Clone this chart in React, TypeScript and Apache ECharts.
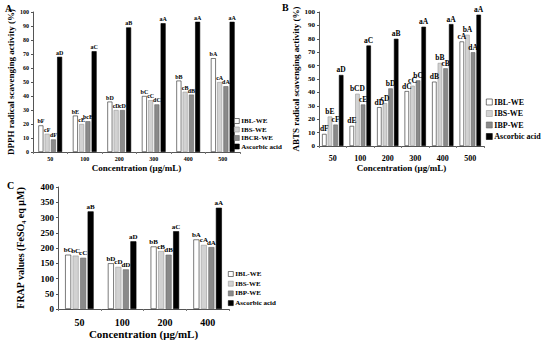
import React, { useEffect, useRef } from "react";
import * as echarts from "echarts";

const FONT = "'Liberation Serif', 'DejaVu Serif', serif";

const catsAB = ["50", "100", "200", "300", "400", "500"];
const catsC = ["50", "100", "200", "400"];

// Panel A: DPPH
const dpphIBL = [19, 26, 36, 40, 51, 67];
const dpphIBS = [13, 20, 30, 37, 43, 50];
const dpphIBCR = [9, 22, 30, 34, 41, 47];
const dpphAsc = [68, 72, 89, 92, 93, 93];
const dpphLblIBL = ["bF", "bE", "bD", "bC", "bB", "bA"];
const dpphLblIBS = ["cF", "cE", "cD", "cC", "cB", "cA"];
const dpphLblIBCR = ["dF", "bcE", "cD", "dC", "dB", "dA"];
const dpphLblAsc = ["aD", "aC", "aB", "aA", "aA", "aA"];

// Panel B: ABTS
const abtsIBL = [9, 15, 29, 41, 48, 78];
const abtsIBS = [22, 39, 32, 45, 62, 83];
const abtsIBP = [16, 31, 43, 49, 58, 70];
const abtsAsc = [53, 75, 80, 89, 91, 98];
const abtsLblIBL = ["dF", "dE", "dD", "dC", "dB", "cA"];
const abtsLblIBS = ["bE", "bCD", "cD", "cC", "bB", "bA"];
const abtsLblIBP = ["cF", "cE", "bD", "bC", "cB", "dA"];
const abtsLblAsc = ["aD", "aC", "aB", "aA", "aA", "aA"];

// Panel C: FRAP
const frapIBL = [178, 150, 205, 228];
const frapIBS = [175, 138, 190, 210];
const frapIBP = [168, 130, 178, 203];
const frapAsc = [320, 222, 255, 332];
const frapLblIBL = ["bC", "bD", "bB", "bA"];
const frapLblIBS = ["bC", "cD", "cB", "cA"];
const frapLblIBP = ["cC", "dD", "dB", "dA"];
const frapLblAsc = ["aB", "aD", "aC", "aA"];

const fills = ["#ffffff", "#d2d2d2", "#8a8a8a", "#000000"];
const borders = ["#222", "#999", "#666", "#000"];

function App() {
  const ref = useRef<HTMLDivElement>(null);
  useEffect(() => {
    document.body.style.margin = "0";
    const chart = echarts.init(ref.current!, null, { renderer: "svg" });

    const mk = (
      name: string,
      idx: number,
      data: number[],
      labels: string[],
      grid: number,
      barWidth: number,
      fs: number
    ) => ({
      type: "bar",
      name,
      xAxisIndex: grid,
      yAxisIndex: grid,
      data,
      barWidth,
      barGap: "25%",
      itemStyle: { color: fills[idx], borderColor: borders[idx], borderWidth: 0.6 },
      label: {
        show: true,
        position: "top",
        distance: 1,
        fontSize: fs,
        fontWeight: "bold",
        fontFamily: FONT,
        color: "#000000",
        textBorderWidth: 0,
        formatter: (p: any) => labels[p.dataIndex],
      },
    });

    const xAx = (grid: number, data: string[], fs: number, margin: number, nfs: number, gap: number) => ({
      type: "category",
      gridIndex: grid,
      data,
      name: "Concentration (μg/mL)",
      nameLocation: "middle",
      nameGap: gap,
      nameTextStyle: { fontSize: nfs, fontWeight: "bold", fontFamily: FONT, color: "#000" },
      axisLine: { lineStyle: { color: "#555", width: 1 } },
      axisTick: { show: true, length: 2, lineStyle: { color: "#777" } },
      axisLabel: { fontSize: fs, fontWeight: "bold", fontFamily: FONT, color: "#000", margin },
    });

    const yAx = (
      grid: number,
      name: string,
      max: number,
      interval: number,
      fs: number,
      nfs: number,
      gap: number
    ) => ({
      type: "value",
      gridIndex: grid,
      min: 0,
      max,
      interval,
      name,
      nameLocation: "middle",
      nameGap: gap,
      nameTextStyle: { fontSize: nfs, fontWeight: "bold", fontFamily: FONT, color: "#000" },
      splitLine: { show: false },
      axisLine: { show: true, lineStyle: { color: "#555", width: 1 } },
      axisTick: { show: true, length: 2, lineStyle: { color: "#555" } },
      axisLabel: { fontSize: fs, fontWeight: "bold", fontFamily: FONT, color: "#000", margin: 4 },
    });

    const legendStyle = (
      left: number,
      top: number,
      data: string[],
      fs: number,
      lh: number,
      gap: number,
      size: number
    ) => ({
      orient: "vertical",
      left,
      top,
      padding: 0,
      data,
      selectedMode: false,
      itemWidth: size,
      itemHeight: size,
      itemGap: gap,
      icon: "rect",
      itemStyle: { borderWidth: 0.6 },
      textStyle: {
        fontSize: fs,
        lineHeight: lh,
        fontWeight: "bold",
        fontFamily: FONT,
        color: "#000",
        padding: [0, 0, 0, -3],
      },
    });

    chart.setOption({
      animation: false,
      backgroundColor: "#fff",
      grid: [
        { left: 33, top: 12, width: 207, height: 140 },
        { left: 319, top: 12, width: 165, height: 134 },
        { left: 58, top: 187, width: 171, height: 125 },
      ],
      xAxis: [
        xAx(0, catsAB, 6, 4, 9, 11),
        xAx(1, catsAB, 8, 8, 9, 17),
        xAx(2, catsC, 10, 8, 11, 19),
      ],
      yAxis: [
        yAx(0, "DPPH radical scavenging activity (%)", 100, 10, 6, 9, 18),
        yAx(1, "ABTS radical scavenging activity (%)", 100, 10, 7, 9, 17),
        yAx(2, "FRAP values (FeSO₄ eq μM)", 400, 50, 9, 10, 33),
      ],
      legend: [
        legendStyle(234, 117, ["IBL-WE", "IBS-WE", "IBCR-WE", "Ascorbic acid"], 7, 8, 0.5, 5),
        legendStyle(486, 97, ["IBL-WE", "IBS-WE", "IBP-WE", "Ascorbic acid"], 8, 10, 1.5, 6),
        legendStyle(228, 270, ["IBL-WE", "IBS-WE", "IBP-WE", "Ascorbic acid"], 7, 8, 1.7, 5),
      ],
      graphic: [
        { type: "text", left: 5, top: 3, style: { text: "A", font: `bold 10px ${FONT}`, fill: "#000" } },
        { type: "text", left: 282, top: 2, style: { text: "B", font: `bold 10px ${FONT}`, fill: "#000" } },
        { type: "text", left: 7, top: 180, style: { text: "C", font: `bold 10px ${FONT}`, fill: "#000" } },
      ],
      series: [
        mk("IBL-WE", 0, dpphIBL, dpphLblIBL, 0, 5, 6),
        mk("IBS-WE", 1, dpphIBS, dpphLblIBS, 0, 5, 6),
        mk("IBCR-WE", 2, dpphIBCR, dpphLblIBCR, 0, 5, 6),
        mk("Ascorbic acid", 3, dpphAsc, dpphLblAsc, 0, 5, 6),
        mk("IBL-WE", 0, abtsIBL, abtsLblIBL, 1, 4.5, 7.5),
        mk("IBS-WE", 1, abtsIBS, abtsLblIBS, 1, 4.5, 7.5),
        mk("IBP-WE", 2, abtsIBP, abtsLblIBP, 1, 4.5, 7.5),
        mk("Ascorbic acid", 3, abtsAsc, abtsLblAsc, 1, 4.5, 7.5),
        mk("IBL-WE", 0, frapIBL, frapLblIBL, 2, 6, 7),
        mk("IBS-WE", 1, frapIBS, frapLblIBS, 2, 6, 7),
        mk("IBP-WE", 2, frapIBP, frapLblIBP, 2, 6, 7),
        mk("Ascorbic acid", 3, frapAsc, frapLblAsc, 2, 6, 7),
      ],
    });
    return () => chart.dispose();
  }, []);
  return <div ref={ref} style={{ width: 550, height: 340 }} />;
}

export default App;
